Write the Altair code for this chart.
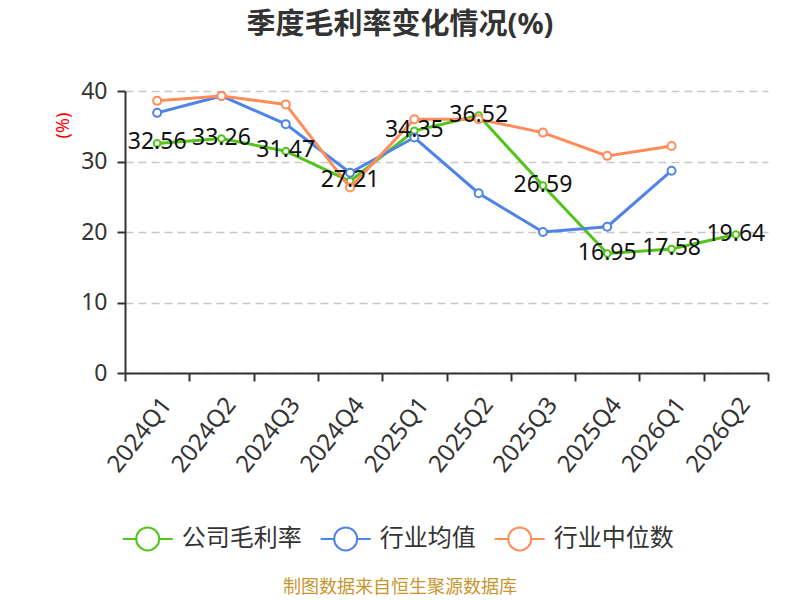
import altair as alt
import pandas as pd

quarters = ["2024Q1", "2024Q2", "2024Q3", "2024Q4", "2025Q1",
            "2025Q2", "2025Q3", "2025Q4", "2026Q1", "2026Q2"]
company = [32.56, 33.26, 31.47, 27.21, 34.35, 36.52, 26.59, 16.95, 17.58, 19.64]
industry_avg = [36.9, 39.3, 35.3, 28.4, 33.4, 25.5, 20.0, 20.75, 28.7, None]
industry_median = [38.6, 39.3, 38.1, 26.3, 36.0, 36.0, 34.1, 30.8, 32.2, None]

series_names = ["公司毛利率", "行业均值", "行业中位数"]
series_colors = ["#52c41a", "#4e84e6", "#ff8c5a"]
title_text = "季度毛利率变化情况(%)"
footer_text = "制图数据来自恒生聚源数据库"

FONT = "Noto Sans, Noto Sans CJK SC, sans-serif"

rows = []
for name, vals in zip(series_names, [company, industry_avg, industry_median]):
    for q, v in zip(quarters, vals):
        if v is not None:
            rows.append({"quarter": q, "series": name, "value": v,
                         "label": f"{v:.2f}"})
df = pd.DataFrame(rows)

x_enc = alt.X(
    "quarter:N",
    sort=quarters,
    bandPosition=0.5,
    scale=alt.Scale(type="band", domain=quarters, paddingInner=0, paddingOuter=0),
    axis=alt.Axis(
        title=None, tickBand="extent", labelAngle=-52, labelAlign="right",
        labelBaseline="top", labelFontSize=24, labelColor="#333333",
        labelFont=FONT, labelPadding=12, tickSize=8, tickColor="#333333",
        tickWidth=2, domainColor="#333333", domainWidth=2, grid=False,
    ),
)
y_enc = alt.Y(
    "value:Q",
    scale=alt.Scale(domain=[0, 40], nice=False),
    axis=alt.Axis(
        values=[0, 10, 20, 30, 40], title="(%)", titleColor="red",
        titleFontSize=18, titleFont=FONT, titleFontWeight="normal",
        titleX=-61.5, titleY=34, titleAngle=270, titleAlign="center",
        titleBaseline="middle", grid=True, gridDash=[8, 5],
        gridColor="#c8c8c8", gridWidth=1.5, labelFontSize=23,
        labelColor="#333333", labelFont=FONT, labelPadding=10,
        tickSize=8, tickColor="#333333", tickWidth=2,
        domainColor="#333333", domainWidth=2,
    ),
)
legend_symbol = ("M-1,0L-0.46,0M0.46,0L1,0M-0.46,0A0.46,0.46,0,1,1,0.46,0"
                 "A0.46,0.46,0,1,1,-0.46,0")
color_enc = alt.Color(
    "series:N",
    scale=alt.Scale(domain=series_names, range=series_colors),
    legend=alt.Legend(
        orient="none", legendX=-3.3, legendY=421.7, direction="horizontal",
        title=None, symbolType=legend_symbol, symbolSize=2500,
        symbolStrokeWidth=2, symbolFillColor="white", labelFontSize=24,
        labelColor="#333333", labelFont=FONT, labelOffset=8,
        columnPadding=15, labelLimit=300,
    ),
)

base = alt.Chart(df)
layers = []
for i, name in enumerate(series_names):
    sub = base.transform_filter(alt.datum.series == name)
    layers.append(
        sub.mark_line(strokeWidth=3).encode(x=x_enc, y=y_enc, color=color_enc)
    )
    layers.append(
        sub.mark_point(filled=False, fill="white", fillOpacity=1,
                       size=45 if i == 0 else 64, strokeWidth=2, opacity=1)
        .encode(x=x_enc, y=y_enc, color=color_enc)
    )

labels = base.transform_filter(alt.datum.series == series_names[0]).mark_text(
    fontSize=23, font=FONT, color="#111111", align="center",
    baseline="middle", dy=-1,
).encode(x=x_enc, y=y_enc, text="label:N")

footer_df = pd.DataFrame({"t": [footer_text]})
footer = alt.Chart(footer_df).mark_text(
    fontSize=18, font=FONT, color="#c8962e", align="center", baseline="middle",
).encode(x=alt.value(275), y=alt.value(497), text="t:N")

chart = alt.layer(*layers, labels, footer).properties(
    width=643, height=282,
    title=alt.TitleParams(
        text=title_text, fontSize=29, fontWeight="bold", font=FONT,
        color="#333333", anchor="middle", frame="group", dx=-46.5,
        baseline="middle", offset=0, dy=-26,
    ),
    autosize=alt.AutoSizeParams(type="none"),
    padding={"left": 117, "top": 83, "right": 24, "bottom": 227},
    background="white",
).configure_view(stroke=None)

chart.save("out.html", embed_options={"renderer": "svg", "actions": False})
